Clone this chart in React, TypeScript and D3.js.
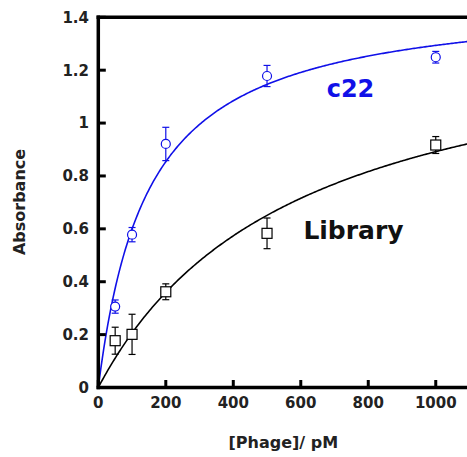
import React from "react";
import * as d3 from "d3";

const phageX = [50, 100, 200, 500, 1000];
const c22Values = [0.306, 0.578, 0.921, 1.178, 1.249];
const c22Errors = [0.025, 0.027, 0.063, 0.04, 0.022];
const libraryValues = [0.177, 0.201, 0.362, 0.583, 0.917];
const libraryErrors = [0.051, 0.076, 0.03, 0.058, 0.032];
const xTicks = [0, 200, 400, 600, 800, 1000];
const yTicks = [0, 0.2, 0.4, 0.6, 0.8, 1, 1.2, 1.4];
const yTickLabels = ["0", "0.2", "0.4", "0.6", "0.8", "1", "1.2", "1.4"];
// hyperbolic binding fits: y = Bmax * x / (Kd + x)
const c22Fit = { bmax: 1.485, kd: 147.8 };
const libraryFit = { bmax: 1.416, kd: 587.5 };

const W = 467;
const H = 457;
const FONT = "'DejaVu Sans', sans-serif";
const BLUE = "#1010e8";

export default function App() {
  const x = d3.scaleLinear().domain([0, 1100]).range([98.3, 469.5]);
  const y = d3.scaleLinear().domain([0, 1.4]).range([387.5, 17.3]);
  const xs = d3.range(0, 1101, 4);
  const line = d3
    .line<[number, number]>()
    .x((d) => x(d[0]))
    .y((d) => y(d[1]));
  const curve = (f: { bmax: number; kd: number }) =>
    line(xs.map((v) => [v, (f.bmax * v) / (f.kd + v)] as [number, number])) || "";

  const errBars = (vals: number[], errs: number[], color: string) =>
    phageX.map((px, i) => {
      const cx = x(px);
      const top = y(vals[i] + errs[i]);
      const bot = y(vals[i] - errs[i]);
      return (
        <g key={i} stroke={color} strokeWidth={1.2}>
          <line x1={cx} x2={cx} y1={top} y2={bot} />
          <line x1={cx - 3.5} x2={cx + 3.5} y1={top} y2={top} />
          <line x1={cx - 3.5} x2={cx + 3.5} y1={bot} y2={bot} />
        </g>
      );
    });

  const x0 = x(0);
  const x1 = x(1100);
  const y0 = y(0);
  const y1 = y(1.4);

  return (
    <svg
      width={W}
      height={H}
      style={{ position: "absolute", left: 0, top: 0, background: "#fff" }}
    >
      <rect x={0} y={0} width={W} height={H} fill="#fff" />
      <defs>
        <clipPath id="plot">
          <rect x={x0} y={y1} width={x1 - x0} height={y0 - y1} />
        </clipPath>
      </defs>
      {/* curves */}
      <g clipPath="url(#plot)" fill="none">
        <path d={curve(libraryFit)} stroke="#000" strokeWidth={1.6} />
        <path d={curve(c22Fit)} stroke={BLUE} strokeWidth={1.6} />
      </g>
      {/* error bars and markers */}
      {errBars(libraryValues, libraryErrors, "#000")}
      {phageX.map((px, i) => (
        <rect
          key={"s" + i}
          x={x(px) - 5}
          y={y(libraryValues[i]) - 5}
          width={10}
          height={10}
          fill="#fff"
          stroke="#000"
          strokeWidth={1.2}
        />
      ))}
      {errBars(c22Values, c22Errors, BLUE)}
      {phageX.map((px, i) => (
        <circle
          key={"c" + i}
          cx={x(px)}
          cy={y(c22Values[i])}
          r={4.5}
          fill="#fff"
          stroke={BLUE}
          strokeWidth={1.2}
        />
      ))}
      {/* frame */}
      <g stroke="#000" strokeWidth={3.5} fill="none">
        <line x1={x0} x2={x0} y1={y1 - 1.75} y2={y0 + 1.75} />
        <line x1={x0 - 1.75} x2={x1} y1={y0} y2={y0} />
        <line x1={x0 - 1.75} x2={x1} y1={y1} y2={y1} />
        <line x1={x1} x2={x1} y1={y1} y2={y0} />
      </g>
      {/* ticks */}
      <g stroke="#000" strokeWidth={3}>
        {yTicks.map((t, i) => (
          <line key={"yt" + i} x1={x0} x2={x0 + 7.5} y1={y(t)} y2={y(t)} />
        ))}
        {xTicks.map((t, i) => (
          <line key={"xt" + i} x1={x(t)} x2={x(t)} y1={y0} y2={y0 - 7.5} />
        ))}
      </g>
      <g fontFamily={FONT} fontWeight="bold" fontSize={15} fill="#222">
        {yTicks.map((t, i) => (
          <text key={"yl" + i} x={89} y={y(t)} dy="0.36em" textAnchor="end">
            {yTickLabels[i]}
          </text>
        ))}
        {xTicks.map((t, i) => (
          <text key={"xl" + i} x={x(t)} y={408.3} textAnchor="middle">
            {t}
          </text>
        ))}
      </g>
      <text
        x={283.3}
        y={447.5}
        textAnchor="middle"
        fontFamily={FONT}
        fontWeight="bold"
        fontSize={16}
        fill="#222"
      >
        [Phage]/ pM
      </text>
      <text
        transform="translate(25,202) rotate(-90)"
        textAnchor="middle"
        fontFamily={FONT}
        fontWeight="bold"
        fontSize={16}
        fill="#222"
      >
        Absorbance
      </text>
      <text
        x={350.5}
        y={96.7}
        textAnchor="middle"
        fontFamily={FONT}
        fontWeight="bold"
        fontSize={24}
        fill={BLUE}
      >
        c22
      </text>
      <text
        x={353.5}
        y={238.5}
        textAnchor="middle"
        fontFamily={FONT}
        fontWeight="bold"
        fontSize={25}
        fill="#111"
      >
        Library
      </text>
    </svg>
  );
}
